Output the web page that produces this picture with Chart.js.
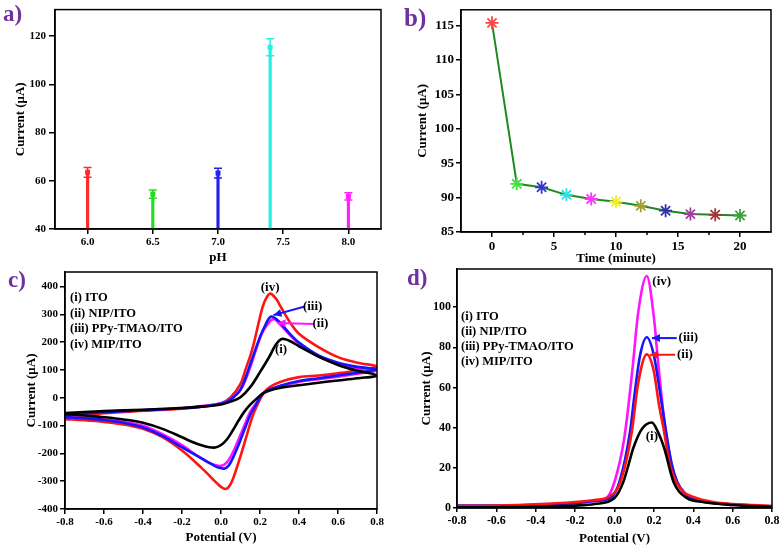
<!DOCTYPE html>
<html><head><meta charset="utf-8">
<script src="https://cdn.jsdelivr.net/npm/chart.js@4.4.1/dist/chart.umd.min.js"></script>
<style>
html,body{margin:0;padding:0;background:#fff;width:783px;height:547px;overflow:hidden;position:relative}
canvas{position:absolute}
.lbl{position:absolute;font-family:"Liberation Serif",serif;font-weight:bold;color:#7030a0;line-height:1}
</style></head><body>
<canvas id="ca" width="390" height="272" style="left:0;top:0"></canvas>
<canvas id="cb" width="393" height="272" style="left:390px;top:0"></canvas>
<canvas id="cc" width="390" height="292" style="left:0;top:255px"></canvas>
<canvas id="cd" width="393" height="292" style="left:390px;top:255px"></canvas>
<div class="lbl" style="left:3px;top:2px;font-size:23px">a)</div>
<div class="lbl" style="left:404px;top:5px;font-size:25px">b)</div>
<div class="lbl" style="left:8px;top:268px;font-size:23px">c)</div>
<div class="lbl" style="left:407px;top:266px;font-size:23px">d)</div>
<script>
const FONT = '"Liberation Serif", "Times New Roman", serif';

// ---- Panel a: pH study ----
const phValues = [6.0, 6.5, 7.0, 7.4, 8.0];
const phCurrent = [63.5, 54.5, 63.2, 115.4, 53.5];
const phError = [2.0, 1.7, 2.0, 3.5, 1.5];
const phColors = ['#ff2a2a', '#22dd22', '#2222ee', '#22f0e6', '#ff22ff'];
const phTicksX = [6.0, 6.5, 7.0, 7.5, 8.0];
const phTicksY = [40, 60, 80, 100, 120];

// ---- Panel b: stability ----
const timeMin = [0, 2, 4, 6, 8, 10, 12, 14, 16, 18, 20];
const timeCurrent = [115.4, 92.0, 91.5, 90.4, 89.8, 89.4, 88.8, 88.1, 87.6, 87.5, 87.4];
const timeColors = ['#ff4444', '#44e044', '#3333dd', '#33e0e0', '#ff33ff', '#eeee22', '#a0a030', '#3333a0', '#a040a0', '#a03838', '#40a040'];
const timeTicksX = [0, 5, 10, 15, 20];
const timeMinorX = [2.5, 7.5, 12.5, 17.5];
const timeTicksY = [85, 90, 95, 100, 105, 110, 115];

// ---- Panel c: CV curves [potential V, current uA] ----
const cvITO = [[-0.8,-55],[-0.6,-48],[-0.4,-43],[-0.2,-37],[-0.1,-32],[0,-24],[0.05,-14],[0.1,2],[0.15,38],[0.2,92],[0.25,150],[0.28,190],[0.312,211],[0.35,205],[0.4,185],[0.5,148],[0.6,118],[0.7,97],[0.8,80],
  [0.7,70],[0.6,62],[0.5,54],[0.4,45],[0.3,35],[0.22,18],[0.18,-5],[0.15,-25],[0.12,-50],[0.09,-82],[0.06,-118],[0.03,-150],[0,-170],[-0.03,-179],[-0.06,-178],[-0.1,-171],[-0.15,-158],[-0.2,-142],[-0.3,-112],[-0.4,-90],[-0.5,-78],[-0.6,-70],[-0.7,-64],[-0.8,-58]];
const cvNIP = [[-0.8,-62],[-0.6,-51],[-0.4,-44],[-0.2,-37],[-0.1,-30],[0,-20],[0.05,-4],[0.1,28],[0.145,100],[0.19,195],[0.22,245],[0.268,283],[0.3,266],[0.35,228],[0.4,193],[0.5,148],[0.6,122],[0.7,106],[0.8,97],
  [0.7,86],[0.6,76],[0.5,67],[0.4,57],[0.3,40],[0.22,18],[0.18,-20],[0.15,-50],[0.12,-100],[0.09,-150],[0.06,-198],[0.03,-232],[0,-245],[-0.03,-242],[-0.06,-234],[-0.1,-218],[-0.15,-195],[-0.2,-170],[-0.3,-131],[-0.4,-101],[-0.5,-87],[-0.6,-78],[-0.7,-72],[-0.8,-68]];
const cvPPy = [[-0.8,-63],[-0.6,-52],[-0.4,-45],[-0.2,-38],[-0.1,-32],[0,-22],[0.05,-6],[0.1,30],[0.14,100],[0.19,200],[0.22,250],[0.257,292],[0.3,272],[0.35,232],[0.4,198],[0.5,152],[0.6,126],[0.7,111],[0.8,102],
  [0.7,90],[0.6,80],[0.5,70],[0.4,60],[0.3,42],[0.22,18],[0.18,-25],[0.15,-62],[0.12,-115],[0.09,-170],[0.06,-218],[0.04,-243],[0.02,-254],[-0.01,-252],[-0.05,-238],[-0.1,-218],[-0.15,-198],[-0.2,-178],[-0.3,-137],[-0.4,-107],[-0.5,-90],[-0.6,-80],[-0.7,-74],[-0.8,-70]];
const cvMIP = [[-0.8,-70],[-0.6,-56],[-0.4,-47],[-0.2,-39],[-0.1,-32],[0,-20],[0.05,2],[0.1,50],[0.125,100],[0.15,150],[0.17,200],[0.2,290],[0.22,340],[0.25,374],[0.28,358],[0.3,335],[0.35,275],[0.4,230],[0.5,182],[0.6,146],[0.7,126],[0.8,112],
  [0.7,98],[0.6,88],[0.5,80],[0.4,74],[0.3,56],[0.25,38],[0.22,18],[0.19,-20],[0.16,-70],[0.13,-140],[0.1,-210],[0.07,-275],[0.05,-310],[0.03,-327],[0.01,-325],[-0.02,-308],[-0.05,-287],[-0.1,-252],[-0.2,-190],[-0.3,-142],[-0.4,-112],[-0.5,-96],[-0.6,-87],[-0.7,-81],[-0.8,-77]];
const potTicks = [-0.8, -0.6, -0.4, -0.2, 0, 0.2, 0.4, 0.6, 0.8];
const cvTicksY = [-400, -300, -200, -100, 0, 100, 200, 300, 400];

// ---- Panel d: DPV curves [potential V, current uA] ----
const dpvITO = [[-0.8,0.3],[-0.6,0.4],[-0.4,0.6],[-0.2,1.2],[-0.1,2],[0,5],[0.045,13],[0.071,21.5],[0.096,30],[0.14,39.5],[0.19,42.6],[0.22,38],[0.252,30],[0.3,13],[0.367,5],[0.45,3],[0.6,1.5],[0.8,0.5]];
const dpvNIP = [[-0.8,1],[-0.6,1.2],[-0.4,1.8],[-0.2,3],[-0.1,4],[-0.03,5.5],[0.03,13],[0.088,38],[0.12,62],[0.164,76.5],[0.2,68],[0.225,52],[0.252,38],[0.28,22],[0.313,13],[0.35,8],[0.4,5.5],[0.5,3],[0.6,2],[0.8,1]];
const dpvPPy = [[-0.8,1.2],[-0.6,1.2],[-0.4,1.5],[-0.2,2.5],[-0.1,3.5],[-0.02,5],[0.025,13],[0.079,38],[0.1,55],[0.13,76],[0.164,85],[0.2,76],[0.235,55],[0.262,38],[0.29,22],[0.319,13],[0.36,7],[0.4,4.5],[0.5,2.5],[0.6,1.8],[0.8,0.8]];
const dpvMIP = [[-0.8,1],[-0.6,1],[-0.4,1.5],[-0.2,2.5],[-0.1,3.5],[-0.04,5],[0,13],[0.05,35],[0.09,68],[0.12,97],[0.164,115.5],[0.2,95],[0.223,71],[0.26,38],[0.29,22],[0.316,13],[0.35,8],[0.384,5],[0.5,2.5],[0.6,1.5],[0.8,0.5]];
const dpvTicksY = [0, 20, 40, 60, 80, 100];

const legendNames = ['(i) ITO', '(ii) NIP/ITO', '(iii) PPy-TMAO/ITO', '(iv) MIP/ITO'];

function toXY(arr){ return arr.map(p => ({x: p[0], y: p[1]})); }

function makeScale(o){
  return {
    type: 'linear', min: o.min, max: o.max, offset: false,
    afterBuildTicks: s => { s.ticks = o.ticks.map(v => ({value: v})); },
    afterFit: s => { if (o.width != null) s.width = o.width; if (o.height != null) s.height = o.height; },
    grid: {display: true, offset: false, drawOnChartArea: false, drawTicks: true, tickLength: o.tl, tickWidth: 1.5, tickColor: '#000', color: '#000', lineWidth: 1.5},
    border: {display: true, color: '#000', width: 1.5},
    ticks: {color: '#000', font: {family: FONT, weight: 'bold', size: o.fs}, padding: o.pad, callback: o.fmt || (v => String(v)), autoSkip: false, maxRotation: 0},
    title: {display: true, text: o.title, color: '#000', font: {family: FONT, weight: 'bold', size: 13}, padding: o.tpad}
  };
}

const boxPlugin = {
  id: 'box',
  afterDatasetsDraw(chart){
    const a = chart.chartArea, c = chart.ctx;
    c.save(); c.strokeStyle = '#000'; c.lineWidth = 1.5;
    c.strokeRect(a.left, a.top, a.right - a.left, a.bottom - a.top);
    c.restore();
  }
};

const minorPlugin = {
  id: 'minor',
  afterDraw(chart){
    const c = chart.ctx, xs = chart.scales.x, a = chart.chartArea;
    c.save(); c.strokeStyle = '#000'; c.lineWidth = 1.5;
    c.beginPath();
    timeMinorX.forEach(v => { const x = xs.getPixelForValue(v); c.moveTo(x, a.bottom); c.lineTo(x, a.bottom + 3); });
    c.stroke(); c.restore();
  }
};

function annotPlugin(legendOffset, legendGap, labels, arrows){
  return {
    id: 'annot',
    afterDatasetsDraw(chart){
      const c = chart.ctx, a = chart.chartArea, xs = chart.scales.x, ys = chart.scales.y;
      c.save();
      c.fillStyle = '#000';
      c.font = 'bold 12.5px ' + FONT;
      c.textAlign = 'left'; c.textBaseline = 'middle';
      legendNames.forEach((t, i) => c.fillText(t, a.left + legendOffset[0], a.top + legendOffset[1] + i * legendGap));
      arrows.forEach(ar => {
        const x1 = xs.getPixelForValue(ar.from[0]), y1 = ys.getPixelForValue(ar.from[1]);
        const x2 = xs.getPixelForValue(ar.to[0]), y2 = ys.getPixelForValue(ar.to[1]);
        c.strokeStyle = ar.color; c.fillStyle = ar.color; c.lineWidth = 2;
        c.beginPath(); c.moveTo(x1, y1); c.lineTo(x2, y2); c.stroke();
        const ang = Math.atan2(y2 - y1, x2 - x1), L = 8, W = 4;
        c.beginPath();
        c.moveTo(x2, y2);
        c.lineTo(x2 - L * Math.cos(ang) + W * Math.sin(ang), y2 - L * Math.sin(ang) - W * Math.cos(ang));
        c.lineTo(x2 - L * Math.cos(ang) - W * Math.sin(ang), y2 - L * Math.sin(ang) + W * Math.cos(ang));
        c.closePath(); c.fill();
      });
      c.fillStyle = '#000';
      c.font = 'bold 13px ' + FONT;
      c.textAlign = 'center';
      labels.forEach(l => c.fillText(l.text, xs.getPixelForValue(l.at[0]), ys.getPixelForValue(l.at[1])));
      c.restore();
    }
  };
}

const baseOpts = (pad) => ({
  responsive: false, animation: false, devicePixelRatio: 1,
  layout: {padding: pad},
  plugins: {legend: {display: false}, tooltip: {enabled: false}}
});

// ---------- Chart a ----------
const errPlugin = {
  id: 'err',
  afterDatasetsDraw(chart){
    const c = chart.ctx, xs = chart.scales.x, ys = chart.scales.y;
    c.save(); c.lineWidth = 1.5;
    phValues.forEach((v, i) => {
      const x = xs.getPixelForValue(v);
      const yt = ys.getPixelForValue(phCurrent[i] + phError[i]);
      const yb = ys.getPixelForValue(phCurrent[i] - phError[i]);
      c.strokeStyle = phColors[i];
      c.beginPath();
      c.moveTo(x, yt); c.lineTo(x, yb);
      c.moveTo(x - 4, yt); c.lineTo(x + 4, yt);
      c.moveTo(x - 4, yb); c.lineTo(x + 4, yb);
      c.stroke();
    });
    c.restore();
  }
};
new Chart(document.getElementById('ca'), {
  type: 'bar',
  data: {datasets: [
    {type: 'bar', data: phValues.map((v, i) => ({x: v, y: phCurrent[i]})), backgroundColor: phColors, barThickness: 2.5},
    {type: 'scatter', data: phValues.map((v, i) => ({x: v, y: phCurrent[i]})), pointStyle: 'rect', pointRadius: 3.5, backgroundColor: phColors, borderColor: phColors, borderWidth: 0}
  ]},
  options: Object.assign(baseOpts({top: 7, right: 9, left: 0, bottom: 0}), {
    scales: {
      x: makeScale({min: 5.75, max: 8.25, ticks: phTicksX, title: 'pH', fs: 11, tl: 5, pad: 2, tpad: {top: 0, bottom: 7}, height: 43, fmt: v => v.toFixed(1)}),
      y: makeScale({min: 40, max: 131, ticks: phTicksY, title: 'Current (\u03bcA)', fs: 11, tl: 6, pad: 3, tpad: {top: 13, bottom: 0}, width: 55})
    }
  }),
  plugins: [errPlugin, boxPlugin]
});

// ---------- Chart b ----------
new Chart(document.getElementById('cb'), {
  type: 'scatter',
  data: {datasets: [{
    data: timeMin.map((t, i) => ({x: t, y: timeCurrent[i]})),
    showLine: true, borderColor: '#1f8a1f', borderWidth: 2, tension: 0,
    pointStyle: 'star', pointRadius: 6.5, pointBorderWidth: 1.8,
    pointBorderColor: timeColors, pointBackgroundColor: timeColors
  }]},
  options: Object.assign(baseOpts({top: 8, right: 12, left: 0, bottom: 0}), {
    scales: {
      x: makeScale({min: -2.5, max: 22.5, ticks: timeTicksX, title: 'Time (minute)', fs: 13, tl: 5, pad: 2, tpad: {top: 0, bottom: 6}, height: 40}),
      y: makeScale({min: 85, max: 117.3, ticks: timeTicksY, title: 'Current (\u03bcA)', fs: 13, tl: 5, pad: 2, tpad: {top: 25, bottom: 0}, width: 71})
    }
  }),
  plugins: [boxPlugin, minorPlugin]
});

// ---------- Chart c ----------
const lineDs = (arr, color) => ({data: toXY(arr), showLine: true, borderColor: color, borderWidth: 2.6, pointRadius: 0, tension: 0.35, fill: false});
new Chart(document.getElementById('cc'), {
  type: 'scatter',
  data: {datasets: [lineDs(cvITO, '#000000'), lineDs(cvPPy, '#1414ff'), lineDs(cvNIP, '#ff14ff'), lineDs(cvMIP, '#ff1414')]},
  options: Object.assign(baseOpts({top: 17, right: 13, left: 0, bottom: 0}), {
    scales: {
      x: makeScale({min: -0.8, max: 0.8, ticks: potTicks, title: 'Potential (V)', fs: 11, tl: 5, pad: 2, tpad: {top: 0, bottom: 2}, height: 38, fmt: v => v.toFixed(1)}),
      y: makeScale({min: -400, max: 452, ticks: cvTicksY, title: 'Current (\u03bcA)', fs: 11, tl: 5, pad: 2, tpad: {top: 24, bottom: 0}, width: 65})
    }
  }),
  plugins: [boxPlugin, annotPlugin([5, 26], 15.5,
    [{text: '(iv)', at: [0.252, 396]}, {text: '(iii)', at: [0.47, 328]}, {text: '(ii)', at: [0.51, 265]}, {text: '(i)', at: [0.308, 173]}],
    [{from: [0.43, 328], to: [0.269, 297], color: '#1414ff'}, {from: [0.475, 265], to: [0.29, 269], color: '#ff14ff'}])]
});

// ---------- Chart d ----------
const dpvDs = (arr, color) => ({data: toXY(arr), showLine: true, borderColor: color, borderWidth: 2.6, pointRadius: 0, cubicInterpolationMode: 'monotone', fill: false});
new Chart(document.getElementById('cd'), {
  type: 'scatter',
  data: {datasets: [dpvDs(dpvITO, '#000000'), dpvDs(dpvNIP, '#ff1414'), dpvDs(dpvPPy, '#1414ff'), dpvDs(dpvMIP, '#ff14ff')]},
  options: Object.assign(baseOpts({top: 14, right: 11, left: 0, bottom: 0}), {
    scales: {
      x: makeScale({min: -0.8, max: 0.8, ticks: potTicks, title: 'Potential (V)', fs: 12, tl: 4, pad: 2, tpad: {top: 0, bottom: 1}, height: 39, fmt: v => v.toFixed(1)}),
      y: makeScale({min: 0, max: 119, ticks: dpvTicksY, title: 'Current (\u03bcA)', fs: 12, tl: 4, pad: 2, tpad: {top: 29, bottom: 0}, width: 67})
    }
  }),
  plugins: [boxPlugin, annotPlugin([4, 48], 15,
    [{text: '(iv)', at: [0.24, 112.7]}, {text: '(iii)', at: [0.375, 84.6]}, {text: '(ii)', at: [0.358, 76.3]}, {text: '(i)', at: [0.19, 35.6]}],
    [{from: [0.316, 84.6], to: [0.19, 84.6], color: '#1414ff'}, {from: [0.308, 76.3], to: [0.18, 76.3], color: '#ff1414'}])]
});
</script>
</body></html>
